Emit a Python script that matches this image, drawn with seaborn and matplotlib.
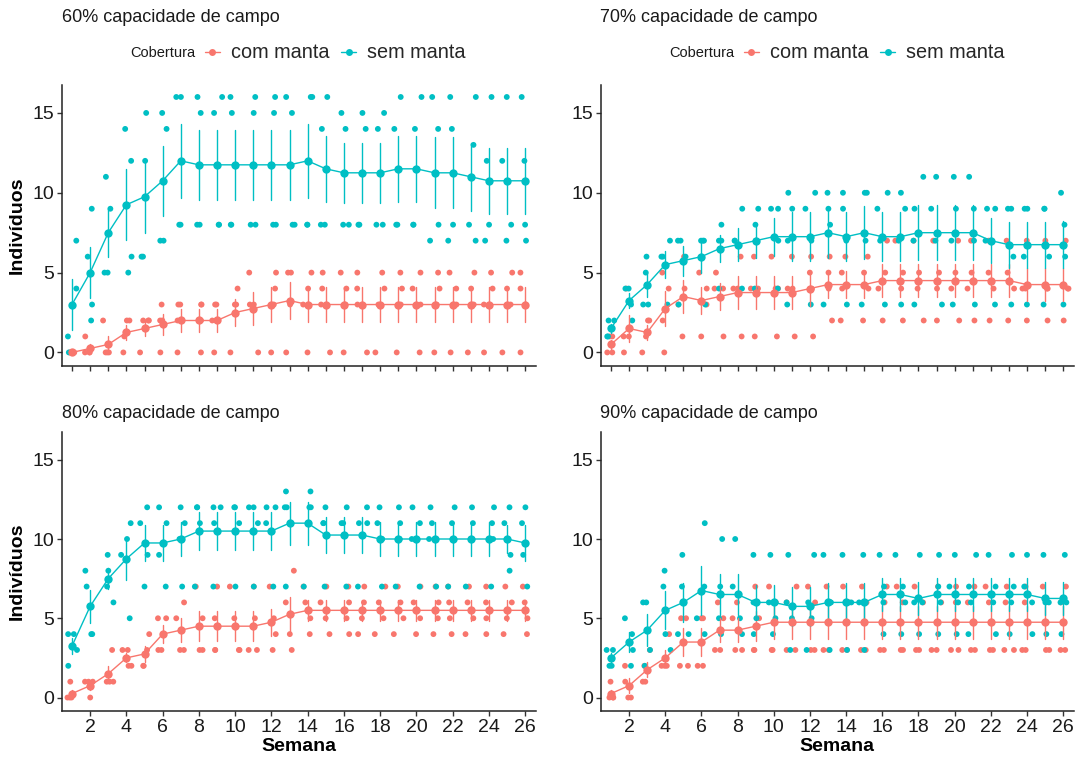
import numpy as np
import pandas as pd
import matplotlib
matplotlib.use("Agg")
import matplotlib.pyplot as plt
from matplotlib.lines import Line2D
import seaborn as sns

# ---- data: four replicate counts per week, for each soil-water level ----
weeks = list(range(1, 27))
groups = ["com manta", "sem manta"]
panel_titles = ["60% capacidade de campo", "70% capacidade de campo",
                "80% capacidade de campo", "90% capacidade de campo"]
x_ticks_bottom = list(range(2, 27, 2))
y_ticks = [0, 5, 10, 15]

cc60_com = [[0, 0, 0, 0], [1, 0, 0, 0], [2, 0, 0, 0], [2, 2, 1, 0], [2, 2, 2, 0],
            [3, 2, 2, 0], [3, 3, 2, 0], [3, 3, 2, 0], [3, 3, 2, 0], [4, 3, 3, 0],
            [5, 3, 3, 0], [5, 4, 3, 0], [5, 5, 3, 0], [5, 4, 3, 0], [5, 4, 3, 0],
            [5, 4, 3, 0], [5, 4, 3, 0], [5, 4, 3, 0], [5, 4, 3, 0], [5, 4, 3, 0],
            [5, 4, 3, 0], [5, 4, 3, 0], [5, 4, 3, 0], [5, 4, 3, 0], [5, 4, 3, 0],
            [5, 4, 3, 0]]
cc60_sem = [[7, 4, 1, 0], [9, 6, 3, 2], [11, 9, 5, 5], [14, 12, 6, 5], [15, 12, 6, 6],
            [15, 14, 7, 7], [16, 16, 8, 8], [16, 15, 8, 8], [16, 15, 8, 8], [16, 15, 8, 8],
            [16, 15, 8, 8], [16, 15, 8, 8], [16, 15, 8, 8], [16, 16, 8, 8], [16, 14, 8, 8],
            [15, 14, 8, 8], [15, 14, 8, 8], [15, 14, 8, 8], [16, 14, 8, 8], [16, 14, 8, 8],
            [16, 14, 8, 7], [16, 14, 8, 7], [16, 13, 8, 7], [16, 12, 8, 7], [16, 12, 8, 7],
            [16, 12, 8, 7]]

cc70_com = [[1, 1, 0, 0], [4, 1, 1, 0], [2, 2, 1, 0], [5, 4, 2, 0], [6, 4, 3, 1],
            [5, 4, 3, 1], [5, 4, 4, 1], [6, 4, 4, 1], [6, 4, 4, 1], [6, 4, 4, 1],
            [6, 4, 4, 1], [6, 5, 4, 1], [6, 5, 4, 2], [6, 5, 4, 2], [6, 5, 4, 2],
            [7, 5, 4, 2], [7, 5, 4, 2], [7, 5, 4, 2], [7, 5, 4, 2], [7, 5, 4, 2],
            [7, 5, 4, 2], [7, 5, 4, 2], [7, 5, 4, 2], [7, 4, 4, 2], [7, 4, 4, 2],
            [7, 4, 4, 2]]
cc70_sem = [[2, 2, 1, 1], [4, 4, 3, 2], [6, 5, 3, 3], [7, 6, 6, 3], [7, 7, 6, 3],
            [7, 7, 7, 3], [8, 7, 7, 4], [9, 7, 7, 4], [9, 8, 7, 4], [9, 9, 7, 4],
            [10, 9, 7, 3], [10, 9, 7, 3], [10, 9, 8, 3], [10, 9, 7, 3], [10, 10, 7, 3],
            [10, 9, 7, 3], [10, 9, 7, 3], [11, 9, 7, 3], [11, 9, 7, 3], [11, 9, 7, 3],
            [11, 9, 7, 3], [9, 9, 7, 3], [9, 9, 6, 3], [9, 9, 6, 3], [9, 9, 6, 3],
            [10, 8, 6, 3]]

cc80_com = [[1, 0, 0, 0], [1, 1, 1, 0], [3, 1, 1, 1], [3, 3, 2, 2], [4, 3, 2, 2],
            [5, 5, 3, 3], [6, 5, 3, 3], [7, 5, 3, 3], [7, 5, 3, 3], [7, 5, 3, 3],
            [7, 5, 3, 3], [7, 5, 4, 3], [8, 6, 4, 3], [7, 6, 5, 4], [7, 6, 5, 4],
            [7, 6, 5, 4], [7, 6, 5, 4], [7, 6, 5, 4], [7, 6, 5, 4], [7, 6, 5, 4],
            [7, 6, 5, 4], [7, 6, 5, 4], [7, 6, 5, 4], [7, 6, 5, 4], [7, 6, 5, 4],
            [7, 6, 5, 4]]
cc80_sem = [[4, 4, 3, 2], [8, 7, 4, 4], [9, 8, 7, 6], [11, 10, 9, 5], [12, 11, 9, 7],
            [12, 11, 9, 7], [12, 11, 10, 7], [12, 12, 11, 7], [12, 12, 11, 7], [12, 12, 11, 7],
            [12, 12, 11, 7], [12, 12, 11, 7], [13, 12, 12, 7], [13, 12, 12, 7], [12, 11, 11, 7],
            [12, 11, 11, 7], [12, 11, 11, 7], [12, 11, 10, 7], [12, 11, 10, 7], [12, 11, 10, 7],
            [12, 11, 10, 7], [12, 11, 10, 7], [12, 11, 10, 7], [12, 11, 10, 7], [12, 11, 9, 8],
            [12, 11, 9, 7]]

cc90_com = [[1, 0, 0, 0], [2, 1, 0, 0], [3, 2, 1, 1], [4, 2, 2, 2], [5, 5, 2, 2],
            [5, 5, 2, 2], [6, 5, 3, 3], [6, 5, 3, 3], [7, 5, 3, 3], [7, 6, 3, 3],
            [7, 6, 3, 3], [7, 6, 3, 3], [7, 6, 3, 3], [7, 6, 3, 3], [7, 6, 3, 3],
            [7, 6, 3, 3], [7, 6, 3, 3], [7, 6, 3, 3], [7, 6, 3, 3], [7, 6, 3, 3],
            [7, 6, 3, 3], [7, 6, 3, 3], [7, 6, 3, 3], [7, 6, 3, 3], [7, 6, 3, 3],
            [7, 6, 3, 3]]
cc90_sem = [[3, 3, 2, 2], [5, 4, 3, 2], [6, 6, 3, 2], [8, 7, 4, 3], [9, 7, 4, 4],
            [11, 7, 5, 4], [10, 7, 5, 4], [10, 7, 5, 4], [9, 6, 5, 4], [9, 6, 5, 4],
            [9, 6, 5, 3], [9, 6, 5, 3], [9, 6, 6, 3], [9, 6, 6, 3], [9, 6, 6, 3],
            [9, 7, 6, 4], [9, 7, 6, 4], [9, 6, 6, 4], [9, 7, 6, 4], [9, 7, 6, 4],
            [9, 7, 6, 4], [9, 7, 6, 4], [9, 7, 6, 4], [9, 7, 6, 4], [9, 6, 6, 4],
            [9, 6, 6, 4]]

panel_data = [(cc60_com, cc60_sem), (cc70_com, cc70_sem),
              (cc80_com, cc80_sem), (cc90_com, cc90_sem)]

palette = {"com manta": "#F8766D", "sem manta": "#00BFC4"}


def long_frame(com, sem):
    rows = []
    for grp, reps in zip(groups, (com, sem)):
        for wk, vals in zip(weeks, reps):
            for v in vals:
                rows.append({"Semana": wk, "Cobertura": grp, "Individuos": v})
    return pd.DataFrame(rows)


# ---- figure ----
sns.set_style("ticks")
plt.rcParams["font.family"] = ["Liberation Sans", "DejaVu Sans"]

W, H = 1075, 760
fig = plt.figure(figsize=(W / 100, H / 100), dpi=100)


def px_box(left, top, right, bottom):
    return [left / W, 1 - bottom / H, (right - left) / W, (bottom - top) / H]


boxes = [px_box(61.5, 85, 536, 366), px_box(600.5, 85, 1074, 366),
         px_box(61.5, 432, 536, 711), px_box(600.5, 432, 1074, 711)]
title_y = [17, 17, 414, 414]
title_x = [61.5, 600.5, 61.5, 600.5]

np.random.seed(3)
for i, (box, (com, sem)) in enumerate(zip(boxes, panel_data)):
    ax = fig.add_axes(box)
    df = long_frame(com, sem)

    sns.stripplot(data=df, x="Semana", y="Individuos", hue="Cobertura",
                  palette=palette, native_scale=True, jitter=0.3, size=4.2,
                  linewidth=0, legend=False, ax=ax, zorder=2)
    sns.lineplot(data=df, x="Semana", y="Individuos", hue="Cobertura",
                 palette=palette, errorbar="se", err_style="bars",
                 marker="o", markersize=6, markeredgewidth=0, linewidth=1.0,
                 err_kws={"elinewidth": 1.0, "capsize": 0},
                 legend=False, ax=ax, zorder=3)

    ax.set_xlim(0.42, 26.6)
    ax.set_ylim(-0.85, 16.75)
    ax.set_yticks(y_ticks)
    ax.set_yticklabels([str(t) for t in y_ticks])
    bottom_row = i >= 2
    if bottom_row:
        ax.set_xticks(x_ticks_bottom)
        ax.set_xticklabels([str(t) for t in x_ticks_bottom])
        ax.set_xlabel("Semana", fontsize=14, fontweight="bold", color="black")
        ax.xaxis.set_label_coords(0.5, -0.098)
    else:
        ax.set_xticks(weeks)
        ax.set_xticklabels([])
        ax.set_xlabel("")
    if i % 2 == 0:
        ax.set_ylabel("Indivíduos", fontsize=14, fontweight="bold", color="black")
        ax.yaxis.set_label_coords(-0.075, 0.5)
    else:
        ax.set_ylabel("")

    sns.despine(ax=ax)
    for side in ("left", "bottom"):
        ax.spines[side].set_color("#222222")
        ax.spines[side].set_linewidth(1.1)
    ax.tick_params(axis="both", length=3.5, width=1.0, color="#333333",
                   labelsize=14, labelcolor="#1a1a1a", pad=2)
    ax.grid(False)

    fig.text(title_x[i] / W, 1 - title_y[i] / H, panel_titles[i],
             fontsize=13, ha="left", va="center", color="#1a1a1a")

    if not bottom_row:
        x0 = box[0] * W
        fig.text((x0 + 68.5) / W, 1 - 53 / H, "Cobertura", fontsize=10.5,
                 ha="left", va="center", color="#1a1a1a")
        handles = [Line2D([], [], color=palette[g], marker="o", linewidth=1.0,
                          markersize=5, markeredgewidth=0) for g in groups]
        ax.legend(handles, groups, loc="center left",
                  bbox_to_anchor=((x0 + 143.5) / W, 1 - 53 / H),
                  bbox_transform=fig.transFigure, ncol=2, frameon=False,
                  fontsize=14.3, handlelength=0.75, handletextpad=0.55,
                  columnspacing=0.6, borderpad=0, borderaxespad=0)

fig.savefig("out.png", dpi=100)
